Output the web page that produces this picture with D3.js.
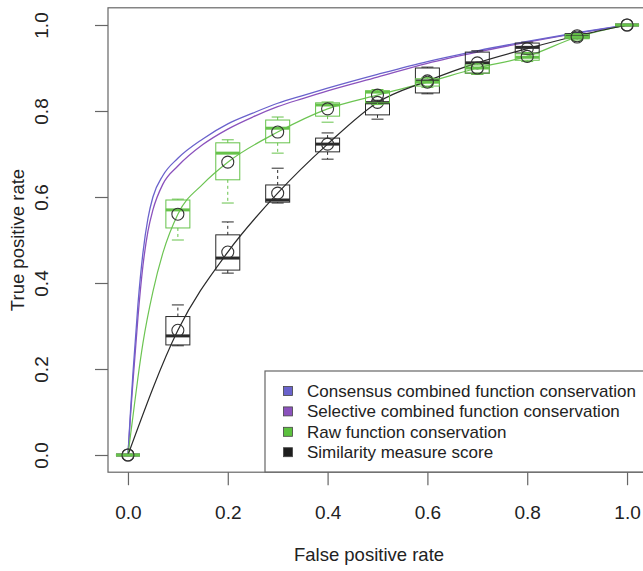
<!DOCTYPE html>
<html>
<head>
<meta charset="utf-8">
<script src="https://cdn.jsdelivr.net/npm/d3@7"></script>
<style>
  body { margin: 0; background: #fff; }
  svg { display: block; font-family: "Liberation Sans", Arial, sans-serif; }
</style>
</head>
<body>
<div class="roc-chart"></div>
<script>
// averaged ROC curves (no boxes)
var consensusFpr = [0, 0.005, 0.01, 0.02, 0.03, 0.04, 0.05, 0.07, 0.1, 0.15, 0.2, 0.25, 0.3, 0.35, 0.4, 0.5, 0.6, 0.7, 0.8, 0.9, 1.0];
var consensusTpr = [0, 0.10, 0.19, 0.35, 0.47, 0.55, 0.60, 0.65, 0.69, 0.735, 0.77, 0.795, 0.818, 0.836, 0.853, 0.885, 0.915, 0.94, 0.962, 0.982, 1.0];
var selectiveFpr = [0, 0.005, 0.01, 0.02, 0.03, 0.04, 0.05, 0.07, 0.1, 0.15, 0.2, 0.25, 0.3, 0.35, 0.4, 0.5, 0.6, 0.7, 0.8, 0.9, 1.0];
var selectiveTpr = [0, 0.09, 0.17, 0.32, 0.44, 0.52, 0.57, 0.63, 0.672, 0.722, 0.758, 0.786, 0.81, 0.829, 0.847, 0.879, 0.911, 0.937, 0.96, 0.981, 1.0];

// raw function conservation curve
var rawFpr = [0, 0.01, 0.02, 0.03, 0.05, 0.07, 0.1, 0.15, 0.2, 0.3, 0.4, 0.5, 0.6, 0.7, 0.8, 0.9, 1.0];
var rawTpr = [0, 0.09, 0.18, 0.26, 0.38, 0.47, 0.56, 0.63, 0.681, 0.751, 0.805, 0.837, 0.867, 0.9, 0.927, 0.972, 1.0];

// boxplot summaries at each false positive rate
var boxFpr = [0, 0.1, 0.2, 0.3, 0.4, 0.5, 0.6, 0.7, 0.8, 0.9, 1.0];

var rawLow  = [0, 0.500, 0.586, 0.702, 0.774, 0.815, 0.855, 0.885, 0.915, 0.965, 1];
var rawQ1   = [0, 0.528, 0.640, 0.726, 0.788, 0.819, 0.858, 0.888, 0.918, 0.968, 1];
var rawMed  = [0, 0.570, 0.702, 0.760, 0.814, 0.844, 0.867, 0.900, 0.925, 0.972, 1];
var rawQ3   = [0, 0.593, 0.726, 0.779, 0.819, 0.847, 0.875, 0.907, 0.933, 0.978, 1];
var rawHigh = [0, 0.595, 0.733, 0.786, 0.821, 0.850, 0.878, 0.910, 0.936, 0.980, 1];
var rawMean = [0, 0.560, 0.681, 0.751, 0.805, 0.837, 0.867, 0.900, 0.927, 0.972, 1];

var simLow  = [0, 0.254, 0.423, 0.586, 0.688, 0.781, 0.840, 0.886, 0.932, 0.968, 1];
var simQ1   = [0, 0.256, 0.430, 0.588, 0.705, 0.791, 0.842, 0.888, 0.935, 0.970, 1];
var simMed  = [0, 0.277, 0.458, 0.593, 0.723, 0.819, 0.870, 0.912, 0.948, 0.975, 1];
var simQ3   = [0, 0.322, 0.512, 0.628, 0.737, 0.821, 0.900, 0.937, 0.958, 0.980, 1];
var simHigh = [0, 0.349, 0.542, 0.667, 0.749, 0.825, 0.902, 0.940, 0.960, 0.982, 1];
var simMean = [0, 0.290, 0.472, 0.609, 0.723, 0.820, 0.870, 0.912, 0.945, 0.975, 1];

var axisTicks = [0, 0.2, 0.4, 0.6, 0.8, 1.0];

var legendLabels = ["Consensus combined function conservation", "Selective combined function conservation",
  "Raw function conservation", "Similarity measure score"];
var legendColors = ["#6a62cc", "#8b52bd", "#5cc13e", "#1e1e1e"];

var width = 643, height = 571;

var svg = d3.select(".roc-chart").append("svg")
  .attr("width", width)
  .attr("height", height);

var x = d3.scaleLinear().domain([-0.04, 1.04]).range([108, 647]);
var y = d3.scaleLinear().domain([-0.04, 1.04]).range([472.2, 7.8]);

function zip(xs, ys) {
  return xs.map(function(d, i) { return [d, ys[i]]; });
}

var line = d3.line()
  .x(function(d) { return x(d[0]); })
  .y(function(d) { return y(d[1]); })
  .curve(d3.curveMonotoneX);

// curves
svg.append("path").attr("d", line(zip(selectiveFpr, selectiveTpr)))
  .attr("fill", "none").attr("stroke", legendColors[1]).attr("stroke-width", 1.3);
svg.append("path").attr("d", line(zip(consensusFpr, consensusTpr)))
  .attr("fill", "none").attr("stroke", legendColors[0]).attr("stroke-width", 1.3);
svg.append("path").attr("d", line(zip(rawFpr, rawTpr)))
  .attr("fill", "none").attr("stroke", "#6cc452").attr("stroke-width", 1.2);
svg.append("path").attr("d", line(zip(boxFpr, simMean)))
  .attr("fill", "none").attr("stroke", "#2a2a2a").attr("stroke-width", 1.2);

function drawBoxes(color, low, q1, med, q3, high, mean) {
  var g = svg.append("g");
  var half = 12, cap = 6;
  boxFpr.forEach(function(f, i) {
    var cx = x(f);
    // whiskers
    g.append("line").attr("x1", cx).attr("x2", cx).attr("y1", y(q3[i])).attr("y2", y(high[i]))
      .attr("stroke", color).attr("stroke-dasharray", "3,3");
    g.append("line").attr("x1", cx).attr("x2", cx).attr("y1", y(q1[i])).attr("y2", y(low[i]))
      .attr("stroke", color).attr("stroke-dasharray", "3,3");
    g.append("line").attr("x1", cx - cap).attr("x2", cx + cap).attr("y1", y(high[i])).attr("y2", y(high[i]))
      .attr("stroke", color);
    g.append("line").attr("x1", cx - cap).attr("x2", cx + cap).attr("y1", y(low[i])).attr("y2", y(low[i]))
      .attr("stroke", color);
    g.append("rect").attr("x", cx - half).attr("width", half * 2)
      .attr("y", y(q3[i])).attr("height", y(q1[i]) - y(q3[i]))
      .attr("fill", "none").attr("stroke", color);
    g.append("line").attr("x1", cx - half).attr("x2", cx + half).attr("y1", y(med[i])).attr("y2", y(med[i]))
      .attr("stroke", color).attr("stroke-width", 3);
    g.append("circle").attr("cx", cx).attr("cy", y(mean[i])).attr("r", 6)
      .attr("fill", "none").attr("stroke", "#333").attr("stroke-width", 1.1);
  });
}

drawBoxes("#2a2a2a", simLow, simQ1, simMed, simQ3, simHigh, simMean);
drawBoxes("#66c24a", rawLow, rawQ1, rawMed, rawQ3, rawHigh, rawMean);

// plot frame
svg.append("rect")
  .attr("x", 108).attr("y", 7.8).attr("width", 539).attr("height", 464.4)
  .attr("fill", "none").attr("stroke", "#666").attr("stroke-width", 1.2);

// axes
var xAxis = svg.append("g").attr("transform", "translate(0,472.2)")
  .call(d3.axisBottom(x).tickValues(axisTicks).tickSize(13).tickPadding(20).tickFormat(d3.format(".1f")));
var yAxis = svg.append("g").attr("transform", "translate(108,0)")
  .call(d3.axisLeft(y).tickValues(axisTicks).tickSize(13).tickFormat(d3.format(".1f")));

[xAxis, yAxis].forEach(function(a) {
  a.select(".domain").remove();
  a.selectAll("line").attr("stroke", "#666").attr("stroke-width", 1.2);
  a.selectAll("text").attr("fill", "#222").style("font-size", "19px")
    .style("font-family", "'Liberation Sans', Arial, sans-serif");
});

// R style: y tick labels parallel to the axis
yAxis.selectAll("text")
  .attr("x", -67).attr("y", 0).attr("dy", "0.35em")
  .attr("transform", "rotate(-90,-67,0)")
  .style("text-anchor", "middle");

svg.append("text").attr("x", 369).attr("y", 561)
  .attr("text-anchor", "middle").style("font-size", "18.5px").attr("fill", "#222")
  .text("False positive rate");
svg.append("text").attr("transform", "translate(24,240) rotate(-90)")
  .attr("text-anchor", "middle").style("font-size", "18.5px").attr("fill", "#222")
  .text("True positive rate");

// legend
var legend = svg.append("g");
legend.append("rect").attr("x", 265).attr("y", 371).attr("width", 400).attr("height", 101)
  .attr("fill", "#fff").attr("stroke", "#666").attr("stroke-width", 1.2);
legendLabels.forEach(function(lab, i) {
  var ly = 391 + i * 20.4;
  legend.append("rect").attr("x", 283.5).attr("y", ly - 4.5).attr("width", 9).attr("height", 9)
    .attr("fill", legendColors[i]).attr("stroke", "#444").attr("stroke-width", 0.8);
  legend.append("text").attr("x", 307).attr("y", ly).attr("dy", "0.35em")
    .style("font-size", "17px").attr("fill", "#222").text(lab);
});
</script>
</body>
</html>
